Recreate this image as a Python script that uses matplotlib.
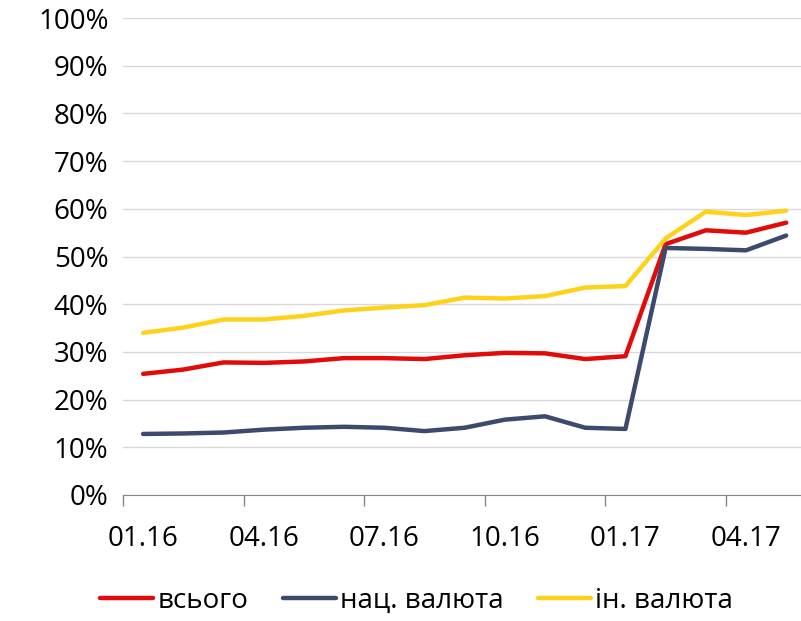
import matplotlib.pyplot as plt
from matplotlib.ticker import FuncFormatter

plt.rcParams['font.family'] = ['Open Sans', 'DejaVu Sans']

# monthly data, 01.16 .. 05.17
months = ["01.16", "02.16", "03.16", "04.16", "05.16", "06.16", "07.16", "08.16", "09.16",
          "10.16", "11.16", "12.16", "01.17", "02.17", "03.17", "04.17", "05.17"]
total = [25.4, 26.3, 27.8, 27.7, 28.0, 28.7, 28.7, 28.5, 29.3, 29.8, 29.7, 28.5, 29.1,
         52.6, 55.5, 55.0, 57.1]
national = [12.8, 12.9, 13.1, 13.7, 14.1, 14.3, 14.1, 13.4, 14.1, 15.8, 16.5, 14.1, 13.85,
            51.8, 51.6, 51.3, 54.4]
foreign = [34.0, 35.1, 36.8, 36.8, 37.55, 38.7, 39.3, 39.8, 41.4, 41.2, 41.7, 43.5, 43.8,
           53.8, 59.4, 58.7, 59.6]

x = list(range(len(months)))

fig = plt.figure(figsize=(8.01, 6.21), dpi=100)
ax = fig.add_axes([0.1536, 0.2029, 0.853, 0.768])

ax.plot(x, total, color='#E30A0A', lw=3.2, label="всього", solid_capstyle='round')
ax.plot(x, national, color='#3C4A6E', lw=3.2, label="нац. валюта", solid_capstyle='round')
ax.plot(x, foreign, color='#FFD21A', lw=3.2, label="ін. валюта", solid_capstyle='round')

ax.set_xlim(-0.5, len(months) - 0.5)
ax.set_ylim(0, 100)
ax.set_yticks(range(0, 101, 10))
ax.yaxis.set_major_formatter(FuncFormatter(lambda v, p: f"{int(v)}%"))
ax.grid(axis='y', color='#D9D9D9', lw=1)
ax.set_axisbelow(True)

# boundary ticks every 3 months, labels at category centres
ax.set_xticks([i - 0.5 for i in range(0, len(months), 3)])
ax.set_xticks(range(0, len(months), 3), minor=True)
ax.set_xticklabels([months[i] for i in range(0, len(months), 3)], minor=True)
ax.tick_params(axis='x', which='major', labelbottom=False, length=8, color='#868686', width=1)
ax.tick_params(axis='x', which='minor', length=0, pad=21.5, labelsize=20)
ax.tick_params(axis='y', length=0, pad=10.5, labelsize=20)

for s in ['top', 'right', 'left']:
    ax.spines[s].set_visible(False)
ax.spines['bottom'].set_color('#868686')

fig.legend(loc='lower center', bbox_to_anchor=(0.52, -0.03), ncol=3, frameon=False,
           fontsize=20, handlelength=1.9, handletextpad=0.15, columnspacing=1.25)

fig.savefig("out.png", dpi=100)
